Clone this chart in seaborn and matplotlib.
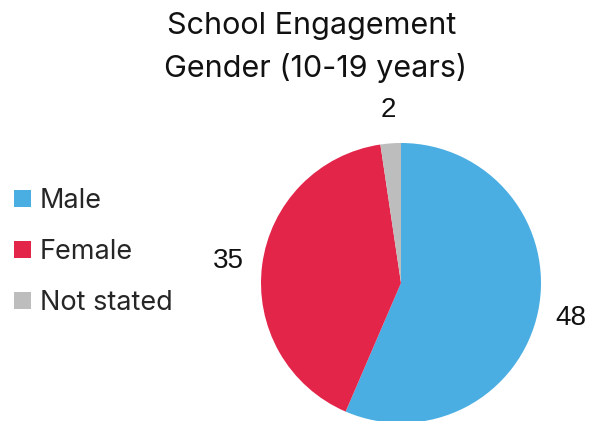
import matplotlib
matplotlib.use("Agg")
import matplotlib.pyplot as plt
import seaborn as sns
from matplotlib.patches import Patch

categories = ["Male", "Female", "Not stated"]
values = [48, 35, 2]
colors = ["#4AAEE3", "#E3254A", "#BDBDBD"]
title_lines = ["School Engagement", "Gender (10-19 years)"]

sns.set_theme(style="white")
plt.rcParams["font.family"] = ["Inter", "DejaVu Sans"]

W, H = 603, 421
fig = plt.figure(figsize=(W / 100, H / 100), dpi=100)
cx, cy, r = 401, 283, 140
ax = fig.add_axes([(cx - r) / W, (H - cy - r) / H, 2 * r / W, 2 * r / H])
wedges, texts = ax.pie(values, labels=[str(v) for v in values], colors=colors,
                       startangle=90, counterclock=False, radius=1,
                       labeldistance=1.24,
                       wedgeprops=dict(linewidth=0),
                       textprops=dict(fontsize=20, family="Liberation Sans", color="#111111"))
for t in texts:
    t.set_ha("center")
    t.set_va("center")
ax.set_xlim(-1, 1)
ax.set_ylim(-1, 1)
ax.set_aspect("equal")
ax.axis("off")

fig.text(312 / W, 1 - 26 / H, title_lines[0], ha="center", va="center", fontsize=22, color="#111111")
fig.text(316 / W, 1 - 68 / H, title_lines[1], ha="center", va="center", fontsize=22, color="#111111")

handles = [Patch(facecolor=c, edgecolor="none") for c in colors]
fig.legend(handles, categories, loc="upper left", bbox_to_anchor=(6 / W, 1 - 180 / H),
           frameon=False, fontsize=19.5, handlelength=0.63, handleheight=0.63,
           handletextpad=0.33, labelspacing=0.92, borderaxespad=0, borderpad=0.3)

fig.savefig("out.png", dpi=100)
